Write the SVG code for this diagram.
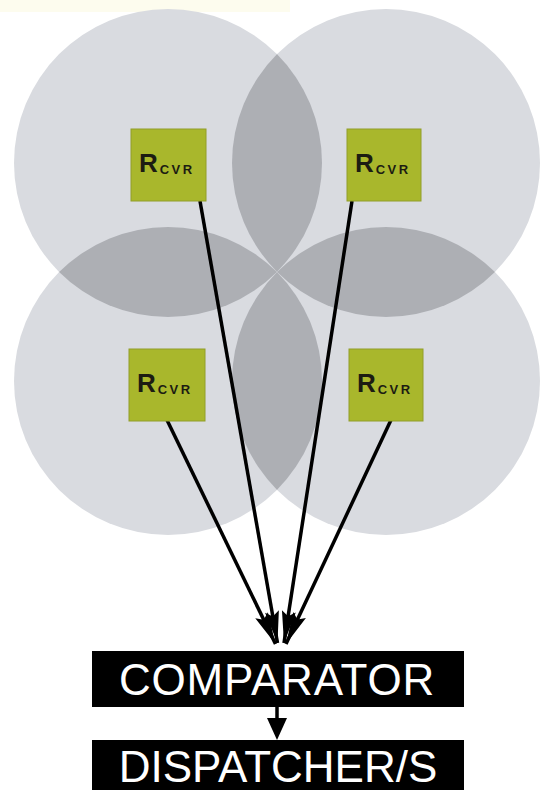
<svg xmlns="http://www.w3.org/2000/svg" width="541" height="790" viewBox="0 0 541 790">
<style>
.zone{fill:#d9dbe0}
.lens{fill:#adafb4}
.rx{fill:#a9b72c;stroke:#929e28;stroke-width:1}
.rt{font-family:"Liberation Sans",Arial,sans-serif;fill:#1c1c12;font-weight:bold}
.big{font-size:26px}
.sub{font-size:13px;letter-spacing:2.4px}
.wire{stroke:#000;stroke-width:3.5;fill:none}
.blk{fill:#000}
.lbl{font-family:"Liberation Sans",Arial,sans-serif;font-size:44px;fill:#fff;text-anchor:middle}
</style>
<defs>
<clipPath id="cTL"><circle cx="168" cy="163" r="154"/></clipPath>
<clipPath id="cBR"><circle cx="386" cy="381" r="154"/></clipPath>
<marker id="ah" viewBox="-34 -9 36 18" refX="0" refY="0" markerWidth="36" markerHeight="18" markerUnits="userSpaceOnUse" orient="auto">
<path d="M0,0 L-32,-7 L-27,0 L-32,7 Z" fill="#000"/>
</marker>
</defs>
<rect width="541" height="790" fill="#fff"/>
<rect x="0" y="0" width="290" height="12" fill="#fdfcee"/>
<g id="zones">
<circle class="zone" cx="168" cy="163" r="154"/>
<circle class="zone" cx="386" cy="163" r="154"/>
<circle class="zone" cx="168" cy="381" r="154"/>
<circle class="zone" cx="386" cy="381" r="154"/>
<circle class="lens" cx="386" cy="163" r="154" clip-path="url(#cTL)"/>
<circle class="lens" cx="168" cy="381" r="154" clip-path="url(#cTL)"/>
<circle class="lens" cx="386" cy="163" r="154" clip-path="url(#cBR)"/>
<circle class="lens" cx="168" cy="381" r="154" clip-path="url(#cBR)"/>
</g>
<g id="connectors">
<line class="wire" x1="200" y1="201" x2="277.5" y2="643" marker-end="url(#ah)"/>
<line class="wire" x1="352" y1="201" x2="284" y2="643" marker-end="url(#ah)"/>
<line class="wire" x1="167" y1="420" x2="275.5" y2="644" marker-end="url(#ah)"/>
<line class="wire" x1="391" y1="420" x2="286" y2="644" marker-end="url(#ah)"/>
<line class="wire" x1="277" y1="707" x2="277" y2="722"/>
<path class="blk" d="M267,718 L287,718 L277,740 Z"/>
</g>
<g id="rcvr-tl">
<rect class="rx" x="131" y="129" width="75" height="72"/>
<text class="rt" x="139" y="172"><tspan class="big">R</tspan><tspan class="sub" dx="2" dy="2">CVR</tspan></text>
</g>
<g id="rcvr-tr">
<rect class="rx" x="347" y="129" width="74" height="72"/>
<text class="rt" x="355" y="172"><tspan class="big">R</tspan><tspan class="sub" dx="2" dy="2">CVR</tspan></text>
</g>
<g id="rcvr-bl">
<rect class="rx" x="129" y="349" width="76" height="72"/>
<text class="rt" x="137" y="392"><tspan class="big">R</tspan><tspan class="sub" dx="2" dy="2">CVR</tspan></text>
</g>
<g id="rcvr-br">
<rect class="rx" x="349" y="349" width="74" height="72"/>
<text class="rt" x="357" y="392"><tspan class="big">R</tspan><tspan class="sub" dx="2" dy="2">CVR</tspan></text>
</g>
<g id="comparator">
<rect class="blk" x="92" y="651" width="372" height="56"/>
<text class="lbl" x="277" y="695" letter-spacing="0.8">COMPARATOR</text>
</g>
<g id="dispatcher">
<rect class="blk" x="92" y="740" width="372" height="50"/>
<text class="lbl" x="278" y="782">DISPATCHER/S</text>
</g>
</svg>
